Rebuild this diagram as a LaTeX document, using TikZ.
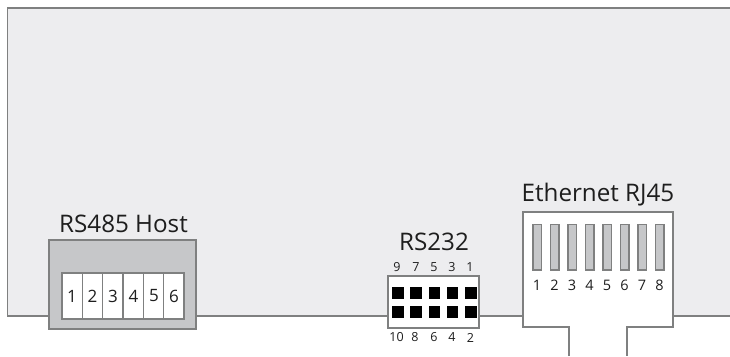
\documentclass[tikz,border=0pt]{standalone}
\usepackage{fontspec}
\setmainfont{Open Sans}
\definecolor{panelfill}{HTML}{EDEDEF}
\definecolor{edge}{HTML}{7F8080}
\definecolor{boxgray}{HTML}{C6C7C9}
\definecolor{inktext}{HTML}{1E1E1E}
\tikzset{
  x=1pt,y=-1pt,
  outline/.style={draw=edge,line width=1.4pt},
  title/.style={text=inktext,inner sep=0pt,font=\fontsize{24.2}{26}\selectfont},
  pin/.style={text=inktext,inner sep=0pt,font=\fontsize{14.5}{16}\selectfont},
  tiny pin/.style={text=inktext,inner sep=0pt,font=\fontsize{12.5}{14}\selectfont},
  bigpin/.style={text=inktext,inner sep=0pt,font=\fontsize{17}{19}\selectfont},
}
\begin{document}
\begin{tikzpicture}
\useasboundingbox (0,0) rectangle (730,356);
\fill[white] (0,0) rectangle (730,356);
% panel
\fill[panelfill] (7.5,8) rectangle (730,316);
\draw[outline] (730,8) -- (7.5,8) -- (7.5,316) -- (730,316);
% RS485
\draw[outline,fill=boxgray] (49,240) rectangle (196,329);
\draw[draw=edge,line width=1.2pt,fill=white] (62,273) rectangle (184,319);
\foreach \x in {82.3,102.6,123,143.4,163.7}
  \draw[edge,line width=1.2pt] (\x,273) -- (\x,319);
\foreach \n/\x in {1/72,2/92.5,3/113,4/133.5,5/154,6/174}
  \node[bigpin] (h\n) at (\x,296) {\n};
\node[title] (rs485) at (123.5,224) {RS485 Host};
% RS232
\draw[outline,fill=white] (388,276) rectangle (479,328);
\foreach \i in {0,...,4}{
  \fill[black] ({392+18.3*\i},287) rectangle +(11.5,12);
  \fill[black] ({392+18.3*\i},306) rectangle +(11.5,11.5);
}
\foreach \n/\x in {9/397,7/416,5/434,3/452,1/470}
  \node[tiny pin] (t\n) at (\x,267) {\n};
\foreach \n/\x in {10/396.5,8/415,6/434,4/452,2/470.5}
  \node[tiny pin] (b\n) at (\x,337.5) {\n};
\node[title] (rs232) at (434,242) {RS232};
% Ethernet
\fill[white] (523,212) -- (673,212) -- (673,327) -- (627,327) -- (627,356) -- (569,356) -- (569,327) -- (523,327) -- cycle;
\draw[outline] (569,356) -- (569,327) -- (523,327) -- (523,212) -- (673,212) -- (673,327) -- (627,327) -- (627,356);
\foreach \i in {0,...,7}
  \draw[draw=edge,line width=1.2pt,fill=boxgray] ({533+17.5*\i},224.5) rectangle +(8.5,45.5);
\foreach \n in {1,...,8}
  \node[pin] (e\n) at ({537+17.5*(\n-1)},285) {\n};
\node[title] (rj45) at (598,195) {Ethernet RJ45};
\end{tikzpicture}
\end{document}
